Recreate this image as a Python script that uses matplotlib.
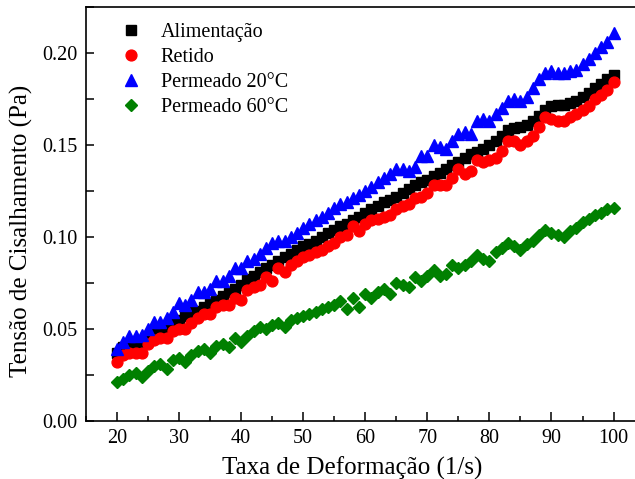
import matplotlib
matplotlib.use("Agg")
import matplotlib.pyplot as plt
from matplotlib.ticker import MultipleLocator

plt.rcParams['font.family'] = ['Liberation Serif', 'DejaVu Serif']

# Shear rate (1/s)
taxa = list(range(20, 101))

# Shear stress (Pa) for each stream
alimentacao = [
    0.037, 0.040, 0.041, 0.041, 0.043, 0.046, 0.049, 0.050, 0.051, 0.053,
    0.055, 0.057, 0.059, 0.060, 0.062, 0.064, 0.066, 0.068, 0.070, 0.072,
    0.074, 0.077, 0.079, 0.081, 0.083, 0.085, 0.087, 0.089, 0.091, 0.093,
    0.095, 0.096, 0.098, 0.100, 0.102, 0.104, 0.106, 0.107, 0.109, 0.111,
    0.113, 0.115, 0.117, 0.119, 0.120, 0.122, 0.124, 0.126, 0.128, 0.130,
    0.131, 0.133, 0.135, 0.137, 0.139, 0.141, 0.143, 0.145, 0.146, 0.148,
    0.150, 0.152, 0.155, 0.158, 0.159, 0.160, 0.161, 0.163, 0.166, 0.169,
    0.171, 0.172, 0.172, 0.173, 0.174, 0.176, 0.178, 0.181, 0.183, 0.186,
    0.188,
]

retido = [
    0.032, 0.036, 0.037, 0.037, 0.037, 0.042, 0.044, 0.045, 0.045, 0.049,
    0.050, 0.050, 0.053, 0.056, 0.058, 0.058, 0.062, 0.063, 0.063, 0.067,
    0.066, 0.071, 0.073, 0.074, 0.078, 0.076, 0.083, 0.081, 0.085, 0.087,
    0.089, 0.090, 0.092, 0.093, 0.095, 0.097, 0.100, 0.101, 0.106, 0.103,
    0.107, 0.109, 0.110, 0.111, 0.112, 0.115, 0.117, 0.118, 0.121, 0.122,
    0.124, 0.128, 0.128, 0.128, 0.132, 0.137, 0.134, 0.136, 0.142, 0.141,
    0.142, 0.143, 0.147, 0.152, 0.152, 0.150, 0.152, 0.155, 0.160, 0.165,
    0.164, 0.163, 0.163, 0.165, 0.167, 0.169, 0.171, 0.175, 0.177, 0.180,
    0.184,
]

permeado_20 = [
    0.039, 0.043, 0.046, 0.046, 0.047, 0.050, 0.054, 0.054, 0.056, 0.059,
    0.064, 0.063, 0.066, 0.070, 0.070, 0.072, 0.076, 0.076, 0.079, 0.083,
    0.083, 0.087, 0.088, 0.091, 0.094, 0.097, 0.098, 0.098, 0.100, 0.102,
    0.105, 0.107, 0.109, 0.111, 0.113, 0.116, 0.118, 0.119, 0.121, 0.123,
    0.125, 0.127, 0.130, 0.132, 0.134, 0.137, 0.137, 0.136, 0.138, 0.144,
    0.144, 0.150, 0.149, 0.148, 0.152, 0.156, 0.157, 0.156, 0.163, 0.164,
    0.163, 0.167, 0.170, 0.174, 0.175, 0.174, 0.176, 0.181, 0.186, 0.189,
    0.190, 0.189, 0.189, 0.190, 0.191, 0.194, 0.197, 0.200, 0.203, 0.206,
    0.211,
]

permeado_60 = [
    0.021, 0.023, 0.025, 0.026, 0.024, 0.027, 0.030, 0.031, 0.028, 0.033,
    0.034, 0.032, 0.036, 0.038, 0.039, 0.037, 0.041, 0.042, 0.040, 0.045,
    0.043, 0.046, 0.049, 0.051, 0.050, 0.052, 0.053, 0.051, 0.055, 0.056,
    0.057, 0.058, 0.059, 0.061, 0.062, 0.063, 0.065, 0.061, 0.067, 0.062,
    0.069, 0.067, 0.070, 0.072, 0.069, 0.075, 0.074, 0.073, 0.078, 0.076,
    0.079, 0.082, 0.079, 0.080, 0.085, 0.083, 0.085, 0.087, 0.090, 0.088,
    0.087, 0.092, 0.094, 0.097, 0.095, 0.093, 0.096, 0.098, 0.101, 0.104,
    0.102, 0.101, 0.100, 0.103, 0.105, 0.108, 0.110, 0.112, 0.113, 0.115,
    0.116,
]

x_ticks = [20, 30, 40, 50, 60, 70, 80, 90, 100]
y_ticks = [0.00, 0.05, 0.10, 0.15, 0.20]

fig = plt.figure(figsize=(6.35, 4.79), dpi=100)
ax = fig.add_axes([0.1354, 0.1211, 0.8797, 0.8643])

ax.plot(taxa, alimentacao, linestyle='none', marker='s', ms=6.8,
        color='black', label='Alimentação')
ax.plot(taxa, retido, linestyle='none', marker='o', ms=7.8,
        color='#ff0000', label='Retido')
ax.plot(taxa, permeado_20, linestyle='none', marker='^', ms=8.3,
        color='#0000ff', label='Permeado 20°C')
ax.plot(taxa, permeado_60, linestyle='none', marker='D', ms=6.2,
        color='#008000', label='Permeado 60°C')

ax.set_xlim(15, 105)
ax.set_ylim(0, 0.225)
ax.set_xticks(x_ticks)
ax.set_yticks(y_ticks)
ax.set_yticklabels([f"{v:.2f}" for v in y_ticks])
ax.xaxis.set_minor_locator(MultipleLocator(5))
ax.yaxis.set_minor_locator(MultipleLocator(0.025))

ax.tick_params(axis='both', which='both', direction='in',
               top=False, right=False, labelsize=14.5, width=1.1)
ax.tick_params(axis='x', which='major', length=6.5, pad=6)
ax.tick_params(axis='x', which='minor', length=3.5)
ax.tick_params(axis='y', which='both', length=6, pad=6)

for s in ax.spines.values():
    s.set_linewidth(1.2)

ax.set_xlabel('Taxa de Deformação (1/s)', fontsize=18)
ax.set_ylabel('Tensão de Cisalhamento (Pa)', fontsize=18)
ax.xaxis.set_label_coords(0.476, -0.085)
ax.yaxis.set_label_coords(-0.095, 0.459)

ax.legend(loc='upper left', bbox_to_anchor=(0.049, 0.982), frameon=False,
          fontsize=14.5, numpoints=1, handlelength=1.0, handletextpad=0.95,
          labelspacing=0.3, borderaxespad=0.0)

fig.savefig('out.png', dpi=100)
